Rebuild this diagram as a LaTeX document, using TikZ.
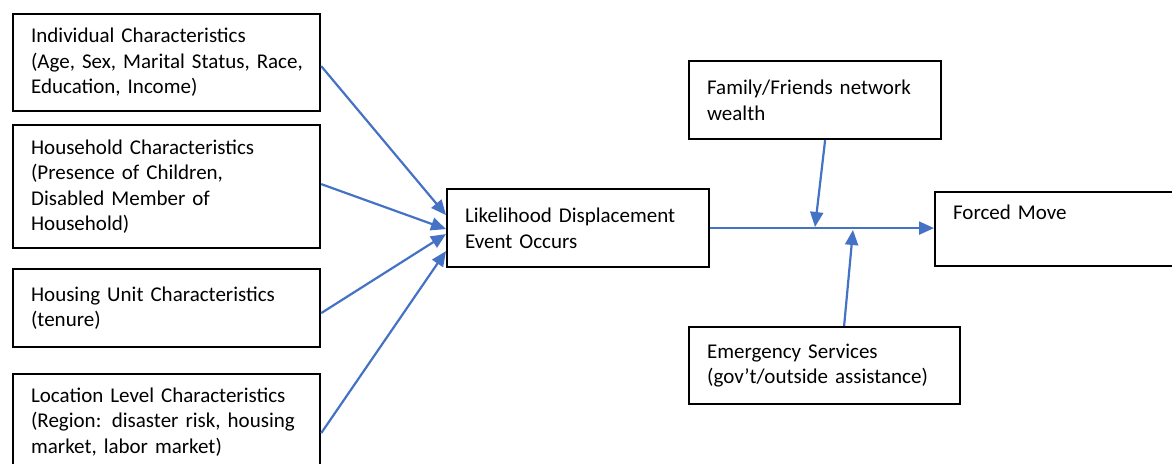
\documentclass[tikz,border=0pt]{standalone}
\usepackage{fontspec}
\setmainfont{Carlito}
\usetikzlibrary{positioning, arrows.meta}
\definecolor{linkblue}{RGB}{68, 114, 196}
\tikzset{
    factor/.style={draw, line width=2.2pt, anchor=north west, align=left, inner xsep=18pt, inner ysep=0pt, font=\fontsize{21}{25.5}\selectfont},
    link/.style={draw=linkblue, line width=2.2pt, -{Triangle[length=15pt, width=13pt]}}
}

\begin{document}
\begin{tikzpicture}[x=1pt, y=-1pt]
    \clip (0,0) rectangle (1172,463);
    % characteristics on the left
    \node[factor, text width=271pt, minimum height=97pt] (indiv) at (12,13) {Individual Characteristics\\\mbox{(Age, Sex, Marital Status, Race,}\\Education, Income)};
    \node[factor, text width=271pt, minimum height=123pt] (house) at (12,124) {Household Characteristics\\(Presence of Children,\\Disabled Member of\\Household)};
    \node[factor, text width=271pt, minimum height=78pt] (unit) at (12,268) {Housing Unit Characteristics\\(tenure)};
    \node[factor, text width=271pt, minimum height=96pt] (place) at (12,373) {Location Level Characteristics\\(Region: disaster risk, housing\\market, labor market)};
    % event and outcome
    \node[factor, text width=226pt, minimum height=78pt] (likely) at (446,188) {Likelihood Displacement\\Event Occurs};
    \node[factor, text width=224pt, minimum height=74pt] (forced) at (934,191) {Forced Move\\[8pt]\mbox{}};
    % moderators
    \node[factor, text width=216pt, minimum height=78pt] (family) at (688,60) {Family/Friends network\\wealth};
    \node[factor, text width=235pt, minimum height=77pt] (emerg) at (688,326) {Emergency Services\\(gov’t/outside assistance)};

    \draw[link] ([yshift=-3.5pt]indiv.east) -- ([yshift=13pt]likely.west);
    \draw[link] ([yshift=2.5pt]house.east) -- ([yshift=-1pt]likely.west);
    \draw[link] ([yshift=-5pt]unit.east) -- ([yshift=-6pt]likely.west);
    \draw[link] ([yshift=-11pt]place.east) -- ([yshift=-23pt]likely.west);

    \draw[link] (likely.east) -- (likely.east -| forced.west);

    \coordinate (famjoin) at (815,227);
    \coordinate (emjoin) at (853,230);
    \draw[link] ([xshift=10pt]family.south) -- (famjoin);
    \draw[link] ([xshift=19.5pt]emerg.north) -- (emjoin);
\end{tikzpicture}
\end{document}
